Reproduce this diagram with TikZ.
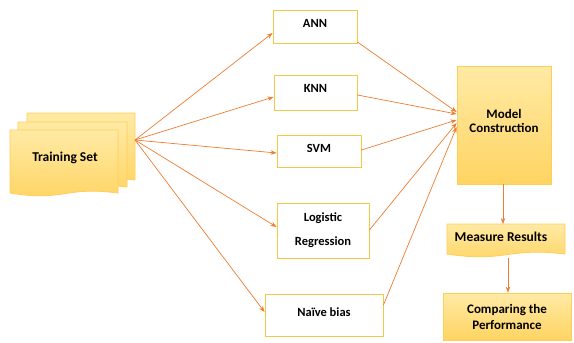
\documentclass[tikz,border=0pt]{standalone}
\usepackage{fontspec}
\setmainfont{Carlito}
\usetikzlibrary{arrows.meta,calc}
\definecolor{arr}{RGB}{237,125,49}
\definecolor{boxline}{RGB}{242,200,70}
\definecolor{filltop}{RGB}{255,234,165}
\definecolor{fillbot}{RGB}{255,212,98}
\definecolor{fillline}{RGB}{255,205,90}
\tikzset{
  plainbox/.style={draw=boxline, line width=0.9pt, fill=white, font=\bfseries\fontsize{12.5}{14}\selectfont, align=center, inner sep=0pt},
  filledbox/.style={draw=fillline, line width=0.8pt, top color=filltop, bottom color=fillbot, font=\bfseries\fontsize{13}{16}\selectfont, align=center, inner sep=0pt},
  docfill/.style={draw=fillline, line width=0.8pt, top color=filltop, bottom color=fillbot},
  lbl/.style={font=\bfseries\fontsize{13.5}{15}\selectfont, align=center, inner sep=0pt},
  conn/.style={draw=arr, line width=0.7pt, -{Stealth[length=6pt,width=4.5pt]}}
}
\newcommand\docsheet[4]{%
  \path[docfill] (#1,#2) -- (#3,#2) -- (#3,#4)
    .. controls ($(#3,#4)+(-0.5*#3+0.5*#1,-7)$) and ($(#1,#4)+(0.5*#3-0.5*#1,9)$) .. (#1,#4) -- cycle;}
\begin{document}
\begin{tikzpicture}[x=1pt,y=-1pt]
\useasboundingbox (0,0) rectangle (574,343);
% training set sheets
\docsheet{27}{113}{135}{180}
\docsheet{18}{122}{127}{187}
\docsheet{10}{130}{118}{193}
\node[lbl] (ts) at (65,158) {Training Set};
\coordinate (tsout) at (135,140);
% classifiers
\node[plainbox, minimum width=84pt, minimum height=33pt] (ann) at (315,26.5) {\raisebox{7pt}{ANN}};
\node[plainbox, minimum width=83pt, minimum height=35pt] (knn) at (315.5,92.5) {\raisebox{9pt}{KNN}};
\node[plainbox, minimum width=84pt, minimum height=32pt] (svm) at (319,151) {\raisebox{6pt}{SVM}};
\node[plainbox, minimum width=92pt, minimum height=55pt] (lr) at (323,230.5) {Logistic\\[10pt]Regression};
\node[plainbox, minimum width=118pt, minimum height=42pt] (nb) at (324,315) {\raisebox{6pt}{Naïve bias}};
% model construction
\node[filledbox, minimum width=94pt, minimum height=118pt] (mc) at (504,125) {\raisebox{8pt}{\shortstack{Model\\[2pt]Construction}}};
% measure results
\docsheet{447}{224}{565}{254}
\node[lbl] (mr) at (501,237) {Measure Results};
\coordinate (mrtop) at (503,224);
\coordinate (mrbot) at (508,258);
% comparing
\node[filledbox, minimum width=128pt, minimum height=47pt] (cp) at (507,316.5) {Comparing the\\Performance};
% arrows from training set
\draw[conn] (tsout) -- (ann.west |- 0,33);
\draw[conn] (tsout) -- (knn.west |- 0,97);
\draw[conn] (tsout) -- (svm.west |- 0,153);
\draw[conn] (tsout) -- (lr.west |- 0,227);
\draw[conn] (tsout) -- (nb.west |- 0,312);
% arrows to model construction
\draw[conn] (ann.east |- 0,42) -- (mc.west |- 0,112);
\draw[conn] (knn.east |- 0,95) -- (mc.west |- 0,114);
\draw[conn] (svm.east |- 0,150) -- (mc.west |- 0,120);
\draw[conn] (lr.east |- 0,230) -- (mc.west |- 0,123);
\draw[conn] (nb.east |- 0,305) -- (mc.west |- 0,127);
% vertical
\draw[conn] (mc.south -| mrtop) -- (mrtop);
\draw[conn] (mrbot) -- (cp.north -| mrbot);
\end{tikzpicture}
\end{document}
